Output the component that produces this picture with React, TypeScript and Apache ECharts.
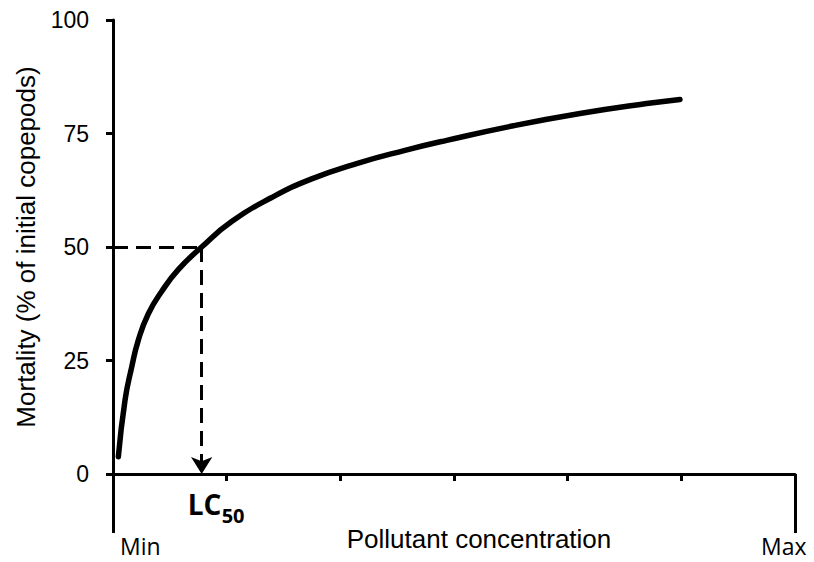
import React, { useEffect, useRef } from "react";
import * as echarts from "echarts";

// x: concentration in arbitrary units (Min = 0 … Max = 6); y: mortality %
const xMin = 0;
const xMax = 6;
const xInterval = 1;
const yMin = 0;
const yMax = 100;
const yInterval = 25;

const concentration = [0.047, 0.106, 0.165, 0.223, 0.311, 0.428, 0.574, 0.78, 1.044, 1.396, 1.748, 2.158, 2.569, 2.936, 3.522, 4.108, 4.695, 4.988];
const mortality = [3.8, 16.3, 23.6, 29.5, 35.3, 40.2, 45.0, 50, 55.6, 60.9, 65.0, 68.5, 71.3, 73.5, 76.7, 79.4, 81.6, 82.5];

const lc50 = 0.78;
const lc50Mortality = 50;

const xTitle = "Pollutant concentration";
const yTitle = "Mortality (% of initial copepods)";
const minLabel = "Min";
const maxLabel = "Max";

const ARIAL = "'Liberation Sans', Arial, sans-serif";
const CALIBRI = "'Open Sans', 'Noto Sans', sans-serif";

export default function App() {
  const ref = useRef<HTMLDivElement>(null);

  useEffect(() => {
    document.body.style.margin = "0";
    const chart = echarts.init(ref.current!, null, { renderer: "svg" });
    const option: any = {
      animation: false,
      backgroundColor: "#ffffff",
      grid: { left: 113, right: 19, top: 20, bottom: 88, containLabel: false },
      xAxis: [
        {
          type: "value",
          min: xMin,
          max: xMax,
          interval: xInterval,
          axisLine: { show: true, lineStyle: { color: "#000", width: 3 } },
          axisTick: { show: true, inside: false, length: 7, lineStyle: { color: "#000", width: 3 } },
          axisLabel: { show: false },
          splitLine: { show: false },
        },
        {
          type: "value",
          position: "bottom",
          min: xMin,
          max: xMax,
          interval: xMax - xMin,
          axisLine: { show: false },
          axisTick: { show: true, inside: false, length: 59, lineStyle: { color: "#000", width: 3 } },
          axisLabel: { show: false },
          splitLine: { show: false },
        },
      ],
      yAxis: {
        type: "value",
        min: yMin,
        max: yMax,
        interval: yInterval,
        name: yTitle,
        nameLocation: "middle",
        nameGap: 74,
        nameTextStyle: { color: "#000", fontSize: 26, fontFamily: ARIAL },
        axisLine: { show: true, lineStyle: { color: "#000", width: 3 } },
        axisTick: { show: true, inside: false, length: 7, lineStyle: { color: "#000", width: 3 } },
        axisLabel: { color: "#000", fontSize: 23, fontFamily: ARIAL, margin: 24 },
        splitLine: { show: false },
      },
      series: [
        {
          type: "line",
          xAxisIndex: 0,
          data: concentration.map((c, i) => [c, mortality[i]]),
          smooth: 0.5,
          showSymbol: false,
          symbol: "none",
          lineStyle: { color: "#000", width: 5.5, cap: "round", join: "round" },
          markLine: {
            silent: true,
            animation: false,
            label: { show: false },
            lineStyle: { color: "#000", width: 3, type: [15, 8] },
            data: [
              [
                { coord: [xMin, lc50Mortality], symbol: "none" },
                { coord: [lc50, lc50Mortality], symbol: "none" },
              ],
              [
                { coord: [lc50, lc50Mortality], symbol: "none" },
                { coord: [lc50, yMin], symbol: "arrow", symbolSize: [16, 17] },
              ],
            ],
          },
        },
      ],
    };
    chart.setOption(option);

    const [x0, y0] = chart.convertToPixel({ gridIndex: 0 }, [xMin, yMin]) as number[];
    const [x1] = chart.convertToPixel({ gridIndex: 0 }, [xMax, yMin]) as number[];
    const [xl] = chart.convertToPixel({ gridIndex: 0 }, [lc50, yMin]) as number[];

    chart.setOption({
      graphic: [
        {
          type: "text",
          x: x0 + 7,
          y: y0 + 72,
          style: { text: minLabel, fill: "#000", fontSize: 23, fontFamily: CALIBRI, align: "left", verticalAlign: "middle" },
        },
        {
          type: "text",
          x: x1 - 34,
          y: y0 + 72,
          style: { text: maxLabel, fill: "#000", fontSize: 23, fontFamily: CALIBRI, align: "left", verticalAlign: "middle" },
        },
        {
          type: "text",
          x: (x0 + x1) / 2 + 25,
          y: y0 + 65,
          style: { text: xTitle, fill: "#000", fontSize: 26, fontFamily: ARIAL, align: "center", verticalAlign: "middle" },
        },
        {
          type: "text",
          x: xl - 14,
          y: y0 + 30,
          style: { text: "LC", fill: "#000", fontSize: 28, fontWeight: "bold", fontFamily: CALIBRI, align: "left", verticalAlign: "middle" },
        },
        {
          type: "text",
          x: xl + 20,
          y: y0 + 41,
          style: { text: "50", fill: "#000", fontSize: 20, fontWeight: "bold", fontFamily: CALIBRI, align: "left", verticalAlign: "middle" },
        },
      ],
    });

    return () => chart.dispose();
  }, []);

  return <div ref={ref} style={{ width: 814, height: 562 }} />;
}
